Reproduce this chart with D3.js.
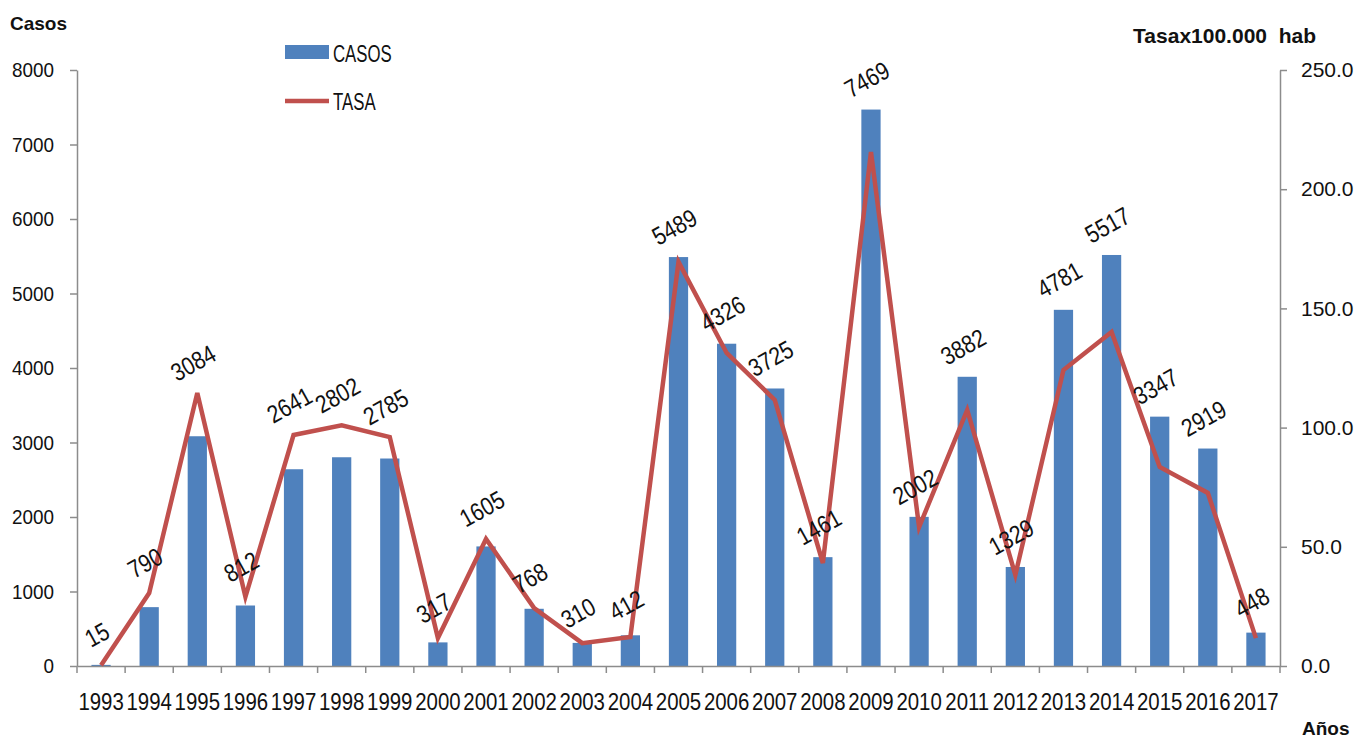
<!DOCTYPE html>
<html>
<head>
<meta charset="utf-8">
<script src="https://cdn.jsdelivr.net/npm/d3@7"></script>
<style>
  body { margin: 0; background: #fff; }
  svg text { font-family: "Liberation Sans", Arial, sans-serif; fill: #111; }
</style>
</head>
<body>
<svg id="chart" width="1368" height="740"></svg>
<script>
const years = ["1993","1994","1995","1996","1997","1998","1999","2000","2001","2002","2003","2004",
  "2005","2006","2007","2008","2009","2010","2011","2012","2013","2014","2015","2016","2017"];
const casos = [15, 790, 3084, 812, 2641, 2802, 2785, 317, 1605, 768, 310, 412,
  5489, 4326, 3725, 1461, 7469, 2002, 3882, 1329, 4781, 5517, 3347, 2919, 448];
const tasa = [0.3, 30.6, 114.5, 29.0, 96.9, 101.0, 96.0, 11.7, 53.3, 24.3, 9.6, 12.2,
  169.5, 131.3, 111.6, 43.2, 215.6, 58.3, 107.4, 38.2, 124.2, 140.1, 83.5, 72.6, 11.7];
const casosTicks = [0, 1000, 2000, 3000, 4000, 5000, 6000, 7000, 8000];
const tasaTicks = [0, 50, 100, 150, 200, 250];

const svg = d3.select("#chart");
const plotLeft = 77, plotRight = 1280, plotTop = 70, plotBottom = 666;
const axisColor = "#8c8c8c";
const barColor = "#4f81bd";
const lineColor = "#c0504d";

// the reference font is narrow, so squeeze text horizontally
const condense = (sel, k) => {
  sel.each(function () {
    const t = d3.select(this);
    const x0 = +t.attr("x") || 0;
    t.attr("x", x0 / k).attr("transform", `scale(${k},1)`);
  });
};

const x = d3.scaleBand().domain(years).range([plotLeft, plotRight]);
const yCasos = d3.scaleLinear().domain([0, 8000]).range([plotBottom, plotTop]);
const yTasa = d3.scaleLinear().domain([0, 250]).range([plotBottom, plotTop]);

// bars
svg.selectAll("rect.bar")
  .data(years)
  .enter()
  .append("rect")
  .attr("class", "bar")
  .attr("x", (d) => x(d) + x.bandwidth() * 0.3)
  .attr("width", x.bandwidth() * 0.4)
  .attr("y", (d, i) => yCasos(casos[i]))
  .attr("height", (d, i) => plotBottom - yCasos(casos[i]))
  .attr("fill", barColor);

// left axis
const leftAxis = svg.append("g")
  .attr("transform", `translate(${plotLeft},0)`)
  .call(d3.axisLeft(yCasos).tickValues(casosTicks).tickSize(7).tickSizeOuter(0).tickPadding(16).tickFormat(d3.format("d")));

// right axis
const rightAxis = svg.append("g")
  .attr("transform", `translate(${plotRight},0)`)
  .call(d3.axisRight(yTasa).tickValues(tasaTicks).tickSize(7).tickSizeOuter(0).tickPadding(14).tickFormat(d3.format(".1f")));

// bottom axis, ticks on category boundaries
const bottomAxis = svg.append("g")
  .attr("transform", `translate(0,${plotBottom})`)
  .call(d3.axisBottom(x).tickSize(0).tickSizeOuter(0).tickPadding(27));

bottomAxis.selectAll("line.sep")
  .data(years.concat(["end"]))
  .enter()
  .append("line")
  .attr("class", "sep")
  .attr("x1", (d, i) => plotLeft + i * x.step())
  .attr("x2", (d, i) => plotLeft + i * x.step())
  .attr("y1", 0)
  .attr("y2", 7)
  .attr("stroke", axisColor)
  .attr("stroke-width", 1.5);

[leftAxis, rightAxis, bottomAxis].forEach((g) => {
  g.attr("font-family", null);
  g.select(".domain").attr("stroke", axisColor).attr("stroke-width", 1.5);
  g.selectAll(".tick line").attr("stroke", axisColor).attr("stroke-width", 1.5);
  g.selectAll(".tick text").attr("font-size", 21).attr("fill", "#111");
});
condense(leftAxis.selectAll(".tick text"), 0.9);
bottomAxis.selectAll(".tick text").attr("font-size", 24);
condense(bottomAxis.selectAll(".tick text"), 0.85);

// line
const line = d3.line()
  .x((d, i) => x(years[i]) + x.bandwidth() / 2)
  .y((d) => yTasa(d));

svg.append("path")
  .datum(tasa)
  .attr("d", line)
  .attr("fill", "none")
  .attr("stroke", lineColor)
  .attr("stroke-width", 4.5)
  .attr("stroke-linejoin", "miter");

// data labels (cases), rotated
svg.selectAll("text.lbl")
  .data(years)
  .enter()
  .append("text")
  .attr("class", "lbl")
  .attr("font-size", 25)
  .attr("text-anchor", "middle")
  .attr("dominant-baseline", "central")
  .attr("transform", (d, i) => {
    const cx = x(d) + x.bandwidth() / 2 - 4;
    const cy = Math.min(yCasos(casos[i]), yTasa(tasa[i])) - 30;
    return `translate(${cx},${cy}) rotate(-29) scale(0.84,1)`;
  })
  .text((d, i) => casos[i]);

// axis titles
svg.append("text").attr("x", 10).attr("y", 30)
  .attr("font-size", 19).attr("font-weight", "bold").text("Casos");
svg.append("text").attr("x", 1316).attr("y", 43).attr("text-anchor", "end")
  .attr("font-size", 21).attr("font-weight", "bold").attr("xml:space", "preserve").text("Tasax100.000  hab");
svg.append("text").attr("x", 1302).attr("y", 735)
  .attr("font-size", 19).attr("font-weight", "bold").text("Años");

// legend
const legend = svg.append("g").attr("transform", "translate(285,0)");
legend.append("rect").attr("x", 0).attr("y", 45).attr("width", 44).attr("height", 14).attr("fill", barColor);
legend.append("text").attr("x", 48).attr("y", 62)
  .attr("font-size", 23).text("CASOS")
  .call(condense, 0.73);
legend.append("line").attr("x1", 0).attr("x2", 44).attr("y1", 101).attr("y2", 101)
  .attr("stroke", lineColor).attr("stroke-width", 4.5);
legend.append("text").attr("x", 48).attr("y", 110)
  .attr("font-size", 23).text("TASA")
  .call(condense, 0.73);
</script>
</body>
</html>
